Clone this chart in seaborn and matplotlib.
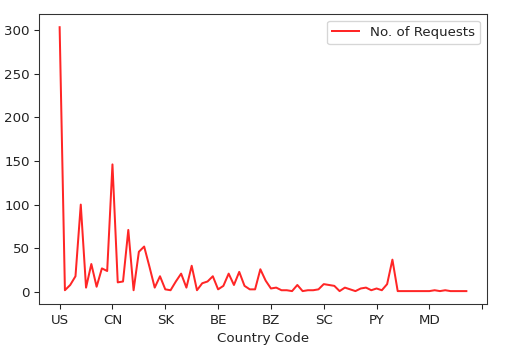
import numpy as np
import matplotlib
matplotlib.use("Agg")
import matplotlib.pyplot as plt
import seaborn as sns

country_codes = [
    "US", "GB", "DE", "FR", "IN", "CA", "AU", "NL", "JP", "BR",
    "CN", "RU", "IT", "ES", "SE", "PL", "KR", "MX", "CH", "TR",
    "SK", "NO", "DK", "FI", "AT", "ID", "UA", "IE", "BG", "CZ",
    "BE", "RO", "AR", "ZA", "SG", "TW", "HK", "PT", "GR", "IL",
    "BZ", "HU", "NZ", "CL", "CO", "TH", "VN", "MY", "PH", "PK",
    "SC", "EG", "NG", "KE", "PE", "VE", "SA", "AE", "LT", "LV",
    "PY", "EE", "HR", "RS", "SI", "BY", "KZ", "GE", "AM", "AZ",
    "MD", "UY", "BO", "EC", "CR", "PA", "IS", "LU",
]
requests = [
    303, 2, 8, 18, 100, 5, 32, 6, 27, 24,
    146, 11, 12, 71, 2, 46, 52, 29, 5, 18,
    3, 2, 12, 21, 5, 30, 2, 10, 12, 18,
    3, 7, 21, 8, 23, 7, 3, 3, 26, 13,
    4, 5, 2, 2, 1, 8, 1, 2, 2, 3,
    9, 8, 7, 1, 5, 3, 1, 4, 5, 2,
    4, 2, 9, 37, 1, 1, 1, 1, 1, 1,
    1, 2, 1, 2, 1, 1, 1, 1,
]
tick_step = 10

dpi = 96
fig = plt.figure(figsize=(507 / dpi, 363 / dpi), dpi=dpi)
ax = fig.add_axes([39.3 / 507, 1 - 304.3 / 363, (486.7 - 39.3) / 507, (304.3 - 14) / 363])

x = np.arange(len(requests))
sns.lineplot(x=x, y=requests, color="red", alpha=0.85, label="No. of Requests",
             ax=ax, linewidth=1.5)

ticks = list(range(0, len(requests) + tick_step, tick_step))
ax.set_xticks(ticks)
ax.set_xticklabels([country_codes[t] if t < len(country_codes) else "" for t in ticks])
ax.set_xlabel("Country Code", color="#222222")
ax.tick_params(colors="#222222", labelcolor="#222222")
for s in ax.spines.values():
    s.set_color("#333333")
ax.set_ylabel("")
ax.margins(x=0.05, y=0.05)
leg = ax.legend(loc="upper right")
for t in leg.get_texts():
    t.set_color("#222222")

fig.savefig("out.png", dpi=dpi)
